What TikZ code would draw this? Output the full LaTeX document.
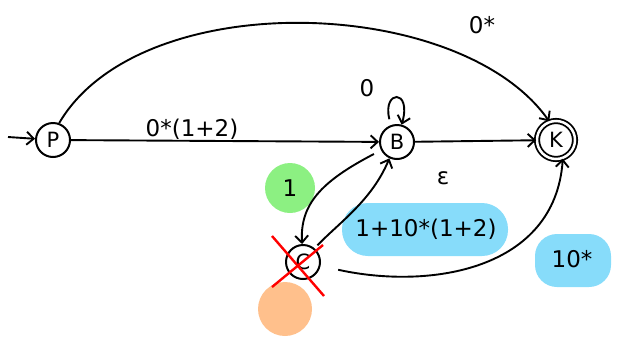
\documentclass[tikz,border=0pt]{standalone}
\usepackage{fontspec}
\setmainfont{DejaVu Sans}
\usetikzlibrary{arrows.meta}
\definecolor{hlgreen}{RGB}{140,240,130}
\definecolor{hlorange}{RGB}{255,192,140}
\definecolor{hlblue}{RGB}{135,220,250}
\begin{document}
\begin{tikzpicture}[x=1pt,y=-1pt,
  state/.style={circle,draw,line width=2pt,minimum size=34pt,inner sep=0pt,font=\fontsize{21}{21}\selectfont},
  accept/.style={state,double,double distance=2.5pt,line width=1.8pt,minimum size=38pt},
  edge/.style={line width=1.9pt,-{Straight Barb[length=7pt,width=13pt]}},
  lbl/.style={font=\fontsize{23}{23}\selectfont,inner sep=1pt}]
\useasboundingbox (0,0) rectangle (617,338);
% highlights
\fill[hlgreen] (290,188) circle (25);
\fill[hlorange] (285,309) circle (27);
\fill[hlblue,rounded corners=26pt] (342,203) rectangle (508,256);
\fill[hlblue,rounded corners=22pt] (535,234) rectangle (611,287);
% states
\node[state] (P) at (53,140) {P};
\node[state] (B) at (397,142) {B};
\node[accept] (K) at (556,140) {K};
\node[state] (C) at (303,262) {C};
\coordinate (start) at (8,137);
% edges
\draw[edge] (start) -- (P);
\draw[edge] (P.70) .. controls (140,-15) and (460,-5) .. (K.110);
\node[lbl] (l0s) at (482,25) {0*};
\draw[edge] (P) -- (B);
\node[lbl] (l1) at (192,129) {0*(1+2)};
\draw[edge,shorten <=6pt] (B.110) .. controls (382,90) and (412,88) .. (B.75);
\node[lbl] (l2) at (367,88) {0};
\draw[edge] (B) -- (K);
\node[lbl] (l3) at (443,178) {ε};
\draw[edge,shorten <=8pt] (B) .. controls (320,182) and (300,205) .. (C);
\node[lbl] (l4) at (290,188) {1};
\draw[edge,shorten <=4pt] (C.50) .. controls (340,222) and (372,200) .. (B.245);
\node[lbl] (l5) at (426,229) {1+10*(1+2)};
\draw[edge,shorten <=18pt] (C) .. controls (430,290) and (555,270) .. (K.-70);
\node[lbl] (l6) at (572,259) {10*};
% red cross
\draw[red,line width=2.4pt] (272,236) -- (324,296);
\draw[red,line width=2.4pt] (272,287) -- (323,245);
\end{tikzpicture}
\end{document}
